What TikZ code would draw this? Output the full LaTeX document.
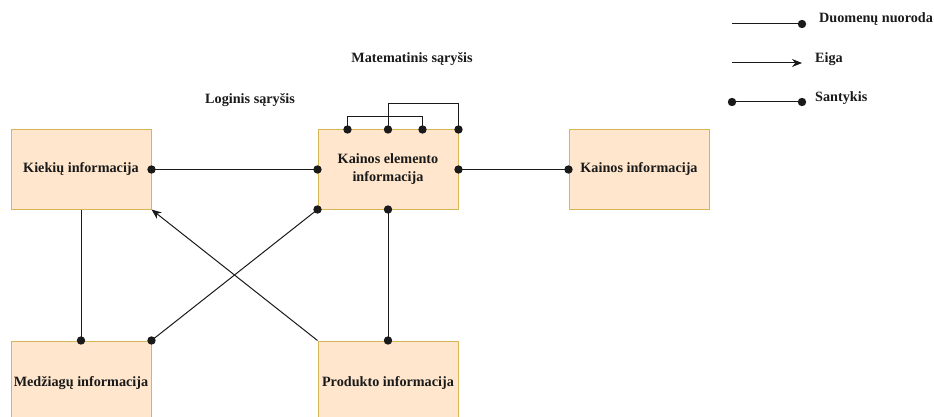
\documentclass[tikz,border=0pt]{standalone}
\usepackage{fontspec}
\setmainfont{Liberation Serif}
\usetikzlibrary{arrows.meta,calc}
\definecolor{boxfill}{HTML}{FFE6CC}
\definecolor{boxline}{HTML}{D6B656}
\definecolor{ink}{HTML}{1A1A1A}
\tikzset{
  infobox/.style={draw=boxline, fill=boxfill, line width=1pt,
    minimum width=140pt, minimum height=79pt, inner sep=0pt,
    align=center, text=ink, font=\bfseries\fontsize{14.2}{18}\selectfont},
  label/.style={text=ink, font=\bfseries\fontsize{14.2}{18}\selectfont, inner sep=0pt},
  link/.style={draw=ink, line width=1pt},
  flow/.style={link, -{Stealth[length=10pt,width=8pt]}},
}
\newcommand{\knot}[1]{\fill[ink] (#1) circle (4.2pt);}
\begin{document}
\begin{tikzpicture}[x=1pt,y=-1pt]
\useasboundingbox (0,0) rectangle (934,417);
\clip (0,0) rectangle (934,417);
\fill[white] (0,0) rectangle (934,417);

% information blocks
\node[infobox] (kiek) at (81,169.5) {Kiekių informacija};
\node[infobox] (kel)  at (388,169.5) {Kainos elemento\\informacija};
\node[infobox] (kinf) at (639,169.5) {Kainos informacija};
\node[infobox, minimum height=150pt] (medz) at (81,416) {};
\node[infobox, minimum height=150pt] (prod) at (388,416) {};
\node[label] (medzt) at (81,383) {Medžiagų informacija};
\node[label] (prodt) at (388,383) {Produkto informacija};

% relation labels
\node[label] (mat) at (412,59) {Matematinis sąryšis};
\node[label] (log) at (250,100) {Loginis sąryšis};

% relations between blocks
\draw[link] (kiek.east) -- (kel.west);
\knot{kiek.east}\knot{kel.west}
\draw[link] (kel.east) -- (kinf.west);
\knot{kel.east}\knot{kinf.west}
\draw[link] (kiek.south) -- (medz.north);
\knot{medz.north}
\draw[link] (kel.south) -- (prod.north);
\knot{kel.south}\knot{prod.north}
\draw[link] (kel.south west) -- (medz.north east);
\knot{kel.south west}\knot{medz.north east}
\draw[flow] (prod.north west) -- (kiek.south east);

% mathematical self relations on the top edge
\coordinate (t1) at ([xshift=30pt]kel.north west);
\coordinate (t3) at ([xshift=105pt]kel.north west);
\draw[link] (t1) -- ++(0,-13) -| (t3);
\draw[link] (kel.north) -- ++(0,-26) -| (kel.north east);
\knot{t1}\knot{kel.north}\knot{t3}\knot{kel.north east}

% legend
\coordinate (l1a) at (732,24); \coordinate (l1b) at (802,24);
\coordinate (l2a) at (732,63); \coordinate (l2b) at (802,63);
\coordinate (l3a) at (732,102); \coordinate (l3b) at (802,102);
\draw[link] (l1a) -- (l1b); \knot{l1b}
\draw[flow] (l2a) -- (l2b);
\draw[link] (l3a) -- (l3b); \knot{l3a}\knot{l3b}
\node[label, anchor=west] (lg1) at (819,19) {Duomenų nuoroda};
\node[label, anchor=west] (lg2) at (815,59) {Eiga};
\node[label, anchor=west] (lg3) at (815,98) {Santykis};
\end{tikzpicture}
\end{document}
